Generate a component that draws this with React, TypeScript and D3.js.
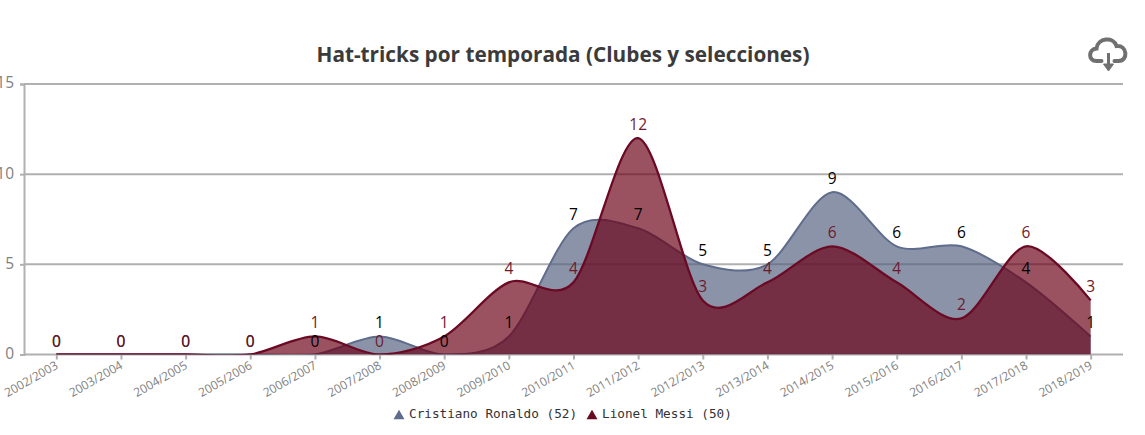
import { useEffect, useRef } from "react";
import * as d3 from "d3";

const seasons = ["2002/2003", "2003/2004", "2004/2005", "2005/2006", "2006/2007", "2007/2008", "2008/2009", "2009/2010", "2010/2011", "2011/2012", "2012/2013", "2013/2014", "2014/2015", "2015/2016", "2016/2017", "2017/2018", "2018/2019"];
const ronaldo = [0, 0, 0, 0, 0, 1, 0, 1, 7, 7, 5, 5, 9, 6, 6, 4, 1];
const messi = [0, 0, 0, 0, 1, 0, 1, 4, 4, 12, 3, 4, 6, 4, 2, 6, 3];
const yTicks = [0, 5, 10, 15];

const sansFont = "'Open Sans', sans-serif";

const App = () => {
    const chartRef = useRef<SVGSVGElement | null>(null);

    useEffect(() => {
        if (!chartRef.current) return;

        const svg = d3.select(chartRef.current);
        svg.selectAll("*").remove();

        const plot = { left: 24, right: 1123, top: 84, bottom: 354.5 };

        const x = d3.scalePoint<string>()
            .domain(seasons)
            .range([plot.left, plot.right])
            .padding(0.5);

        const y = d3.scaleLinear()
            .domain([0, 15])
            .range([plot.bottom, plot.top]);

        svg.append("defs").append("clipPath")
            .attr("id", "plot-clip")
            .append("rect")
            .attr("x", plot.left)
            .attr("y", plot.top)
            .attr("width", plot.right - plot.left)
            .attr("height", plot.bottom - plot.top);

        // Title
        svg.append("text")
            .attr("x", 563)
            .attr("y", 62)
            .attr("text-anchor", "middle")
            .attr("font-family", sansFont)
            .attr("font-weight", 700)
            .attr("font-size", 20.75)
            .attr("fill", "#3b3b3b")
            .text("Hat-tricks por temporada (Clubes y selecciones)");

        // Y axis with gridlines
        const yAxis = svg.append("g")
            .attr("transform", `translate(${plot.left},0)`)
            .call(d3.axisLeft(y).tickValues(yTicks).tickSize(4).tickPadding(6));
        yAxis.select(".domain").attr("stroke", "#b0b0b0").attr("stroke-width", 2);
        yAxis.selectAll("line").attr("stroke", "#b0b0b0").attr("stroke-width", 2);
        yAxis.selectAll("text")
            .attr("font-family", sansFont)
            .attr("font-size", 15.5)
            .attr("dy", "0.25em")
            .attr("fill", "#808080");

        svg.append("g")
            .selectAll("line")
            .data(yTicks)
            .enter().append("line")
            .attr("x1", plot.left)
            .attr("x2", plot.right)
            .attr("y1", d => y(d))
            .attr("y2", d => y(d))
            .attr("stroke", "#b0b0b0")
            .attr("stroke-width", 2);

        // X axis
        const xAxis = svg.append("g")
            .attr("transform", `translate(0,${plot.bottom})`)
            .call(d3.axisBottom(x).tickSize(5).tickPadding(6));
        xAxis.select(".domain").remove();
        xAxis.selectAll("line").attr("stroke", "#b0b0b0").attr("stroke-width", 2);
        xAxis.selectAll("text")
            .attr("font-family", sansFont)
            .attr("font-size", 12)
            .attr("fill", "#808080")
            .attr("text-anchor", "end")
            .attr("dy", "0.5em")
            .attr("transform", "translate(-9,0) rotate(-30) translate(3,0)");

        // Areas
        const curve = d3.curveCardinal.tension(0.1);
        const area = d3.area<number>()
            .x((_, i) => x(seasons[i]) as number)
            .y0(y(0))
            .y1(d => y(d))
            .curve(curve);
        const line = d3.line<number>()
            .x((_, i) => x(seasons[i]) as number)
            .y(d => y(d))
            .curve(curve);

        const series = [
            { values: ronaldo, fill: "#54607f", stroke: "#5f6c8c", width: 2, label: "#000000" },
            { values: messi, fill: "#6a0015", stroke: "#6b0a24", width: 2.3, label: "#6e1a2e" },
        ];

        const layer = svg.append("g").attr("clip-path", "url(#plot-clip)");
        series.forEach(s => {
            layer.append("path")
                .attr("d", area(s.values))
                .attr("fill", s.fill)
                .attr("fill-opacity", 0.68);
            layer.append("path")
                .attr("d", line(s.values))
                .attr("fill", "none")
                .attr("stroke", s.stroke)
                .attr("stroke-width", s.width);
        });

        // Value labels
        series.forEach(s => {
            svg.append("g")
                .selectAll("text")
                .data(s.values)
                .enter().append("text")
                .attr("x", (_, i) => x(seasons[i]) as number)
                .attr("y", d => y(d) - 8)
                .attr("text-anchor", "middle")
                .attr("font-family", sansFont)
                .attr("font-size", 15.5)
                .attr("fill", s.label)
                .text(d => d);
        });

        // Legend
        const legend = [
            { name: "Cristiano Ronaldo (52)", color: "#5f6c8c", at: 399 },
            { name: "Lionel Messi (50)", color: "#680a20", at: 592 },
        ];
        const triangle = d3.symbol().type(d3.symbolTriangle).size(52);
        legend.forEach(item => {
            svg.append("path")
                .attr("d", triangle())
                .attr("transform", `translate(${item.at},416)`)
                .attr("fill", item.color);
            svg.append("text")
                .attr("x", item.at + 10)
                .attr("y", 418)
                .attr("font-family", "'DejaVu Sans Mono', monospace")
                .attr("font-size", 12.7)
                .attr("fill", "#333333")
                .text(item.name);
        });

        // Export icon
        const icon = svg.append("g")
            .attr("fill", "none")
            .attr("stroke", "#707070")
            .attr("transform", "translate(1.5,0)");
        icon.append("path")
            .attr("d", "M1100 61 H1095 C1086 61 1087 49 1095 48.5 C1096 38 1112 36 1115 46 C1126 45 1127 61 1117 61 H1113")
            .attr("stroke-width", 4)
            .attr("stroke-linecap", "round");
        icon.append("path")
            .attr("d", "M1107 53 V67")
            .attr("stroke-width", 3);
        icon.append("path")
            .attr("d", "M1102 64 H1112 L1107 71 Z")
            .attr("fill", "#707070")
            .attr("stroke-width", 1);
    }, []);

    return (
        <svg
            ref={chartRef}
            width={1145}
            height={435}
            style={{ position: "absolute", left: 0, top: 0, display: "block" }}
        ></svg>
    );
};

export default App;
